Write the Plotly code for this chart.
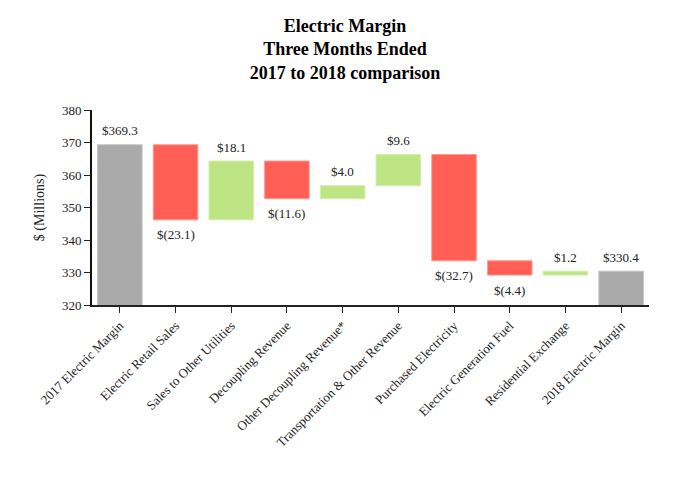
import plotly.graph_objects as go

categories = ["2017 Electric Margin", "Electric Retail Sales", "Sales to Other Utilities",
              "Decoupling Revenue", "Other Decoupling Revenue*", "Transportation & Other Revenue",
              "Purchased Electricity", "Electric Generation Fuel", "Residential Exchange",
              "2018 Electric Margin"]
values = [369.3, -23.1, 18.1, -11.6, 4.0, 9.6, -32.7, -4.4, 1.2, 330.4]
kinds = ["total", "delta", "delta", "delta", "delta", "delta", "delta", "delta", "delta", "total"]
labels = ["$369.3", "$(23.1)", "$18.1", "$(11.6)", "$4.0", "$9.6", "$(32.7)", "$(4.4)", "$1.2", "$330.4"]

GRAY = "#aaaaaa"
RED = "#ff5f55"
GREEN = "#bee584"
EDGE = {GRAY: "#c4c4c4", RED: "#ff9a92", GREEN: "#d4eeae"}

bases, ys, colors = [], [], []
running = 0.0
for k, v in zip(kinds, values):
    if k == "total":
        bases.append(0)
        ys.append(v)
        colors.append(GRAY)
        running = v
    else:
        bases.append(running)
        ys.append(v)
        colors.append(GREEN if v > 0 else RED)
        running += v

fig = go.Figure(go.Bar(
    x=categories, y=ys, base=bases,
    marker=dict(color=colors, line=dict(width=1, color=[EDGE[c] for c in colors])),
    width=0.8,
    hoverinfo="skip",
))

annotations = []
for cat, b, v, lab in zip(categories, bases, ys, labels):
    end = b + v
    annotations.append(dict(
        x=cat, y=end, xref="x", yref="y", text=lab, showarrow=False,
        yanchor="middle", yshift=14 if v >= 0 else -15,
        font=dict(family="Liberation Serif", size=13, color="#222222"),
    ))

fig.update_layout(
    width=674, height=472,
    paper_bgcolor="white", plot_bgcolor="white",
    margin=dict(l=84, r=33, t=102, b=175, autoexpand=False),
    showlegend=False,
    annotations=annotations,
    font=dict(family="Liberation Serif", size=13, color="#222222"),
    title=dict(text="<b>Electric Margin<br>Three Months Ended<br>2017 to 2018 comparison</b>",
               x=0.5, xanchor="center", xref="container",
               y=1 - 24 / 472, yanchor="top", yref="container",
               font=dict(family="Liberation Serif", size=18, color="black")),
    yaxis=dict(range=[320, 380], dtick=10, showgrid=False, zeroline=False,
               showline=True, linecolor="#111111", linewidth=2,
               ticks="outside", ticklen=6, tickcolor="#222222", tickwidth=1,
               title=dict(text="$ (Millions)", font=dict(size=14), standoff=14)),
    xaxis=dict(showgrid=False, showline=True, linecolor="#222222", linewidth=2,
               ticks="outside", ticklen=6, tickcolor="#222222", tickwidth=1,
               tickangle=-45, tickfont=dict(size=13)),
)

fig.write_html("out.html")
